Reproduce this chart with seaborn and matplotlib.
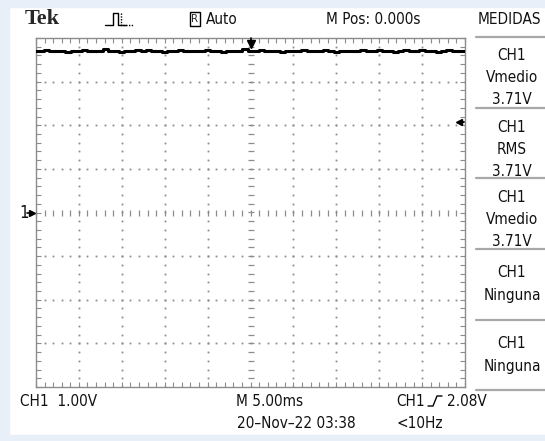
import numpy as np
import pandas as pd
import seaborn as sns
import matplotlib.pyplot as plt
from matplotlib.lines import Line2D
from matplotlib.patches import Rectangle

# CH1 trace, volts (1 V/div), sampled across the 50 ms screen (5 ms/div)
ch1_volts = [3.71, 3.71, 3.73, 3.71, 3.71, 3.71, 3.69, 3.71, 3.71, 3.73,
             3.71, 3.71, 3.71, 3.74, 3.71, 3.71, 3.69, 3.71, 3.71, 3.73,
             3.71, 3.73, 3.71, 3.71, 3.69, 3.71, 3.71, 3.73, 3.71, 3.71,
             3.71, 3.71, 3.73, 3.71, 3.71, 3.69, 3.71, 3.71, 3.71, 3.74,
             3.71, 3.71, 3.73, 3.71, 3.71, 3.71, 3.69, 3.71, 3.71, 3.71,
             3.73, 3.71, 3.71, 3.71, 3.73, 3.71, 3.69, 3.71, 3.71, 3.71,
             3.71, 3.73, 3.71, 3.71, 3.73, 3.71, 3.71, 3.69, 3.71, 3.73,
             3.71, 3.71, 3.73, 3.71, 3.71, 3.69, 3.71, 3.73, 3.71, 3.71, 3.71]
trigger_level = 2.08

measure_channels = ['CH1', 'CH1', 'CH1', 'CH1', 'CH1']
measure_types = ['Vmedio', 'RMS', 'Vmedio', 'Ninguna', 'Ninguna']
measure_values = ['3.71V', '3.71V', '3.71V', '', '']

W, H = 545, 441
sns.set_style('white')
plt.rcParams['font.family'] = ['DejaVu Sans']
plt.rcParams['font.stretch'] = 'condensed'

fig = plt.figure(figsize=(W / 100, H / 100), dpi=100)
fig.patch.set_facecolor('white')


def fx(x):
    return x / W


def fy(y):
    return 1 - y / H


def label(x, y, s, ha='left', size=11):
    fig.text(fx(x), fy(y), s, fontsize=size, ha=ha, va='center', stretch='condensed',
             color='#111111')


# light blue frame of the screenshot
frame = '#e9eff9'
fig.add_artist(Rectangle((0, 0), fx(9), 1, transform=fig.transFigure, color=frame, zorder=0))
fig.add_artist(Rectangle((0, fy(7)), 1, 7 / H, transform=fig.transFigure, color=frame, zorder=0))
fig.add_artist(Rectangle((0, 0), 1, 6 / H, transform=fig.transFigure, color=frame, zorder=0))

ax = fig.add_axes([fx(36), fy(387), (465 - 36) / W, (387 - 38) / H])
ax.set_facecolor('white')

df = pd.DataFrame({'time_ms': np.linspace(-25, 25, len(ch1_volts)), 'volts': ch1_volts})
sns.lineplot(data=df, x='time_ms', y='volts', color='black', linewidth=2.2,
             drawstyle='steps-mid', ax=ax, zorder=5)

ax.set_xlim(-25, 25)
ax.set_ylim(-4, 4)
ax.set_xlabel('')
ax.set_ylabel('')

grid_c = '#8c8c8c'
for s in ax.spines.values():
    s.set_color(grid_c)
    s.set_linewidth(1.0)

# graticule: border ticks every 1/5 division
ax.set_xticks(np.arange(-25, 25.1, 5))
ax.set_yticks(np.arange(-4, 4.1, 1))
ax.set_xticks(np.arange(-25, 25.1, 1), minor=True)
ax.set_yticks(np.arange(-4, 4.1, 0.2), minor=True)
ax.tick_params(which='both', direction='in', length=3.5, width=0.8, color=grid_c,
               top=True, right=True, bottom=True, left=True,
               labelbottom=False, labelleft=False)

xs = np.arange(-25, 25.1, 1)
ys = np.arange(-4, 4.1, 0.2)
for gx in np.arange(-20, 20.1, 5):
    if gx == 0:
        ax.plot(np.full_like(ys, gx), ys, ls='none', marker='_', ms=4, mew=0.9, color=grid_c)
    else:
        ax.plot(np.full_like(ys, gx), ys, ls='none', marker='s', ms=1.3, mew=0, color=grid_c)
for gy in np.arange(-3, 3.1, 1):
    if gy == 0:
        ax.plot(xs, np.full_like(xs, gy), ls='none', marker='|', ms=4, mew=0.9, color=grid_c)
    else:
        ax.plot(xs, np.full_like(xs, gy), ls='none', marker='s', ms=1.3, mew=0, color=grid_c)

# trigger position (top) and trigger level (right) markers
ax.plot([0], [3.86], marker='v', ms=6, color='black', clip_on=False, zorder=6)
ax.plot([0, 0], [3.9, 4.0], color='black', lw=1.2, clip_on=False, zorder=6)
ax.plot([24.3], [trigger_level], marker='<', ms=5, color='black', clip_on=False, zorder=6)
ax.plot([24.3, 24.9], [trigger_level, trigger_level], color='black', lw=1.3, clip_on=False, zorder=6)

# channel 1 ground marker
ax.plot([-25.5], [0], marker='>', ms=5, color='black', clip_on=False, zorder=6)
ax.plot([-26.0, -25.4], [0, 0], color='black', lw=1.2, clip_on=False, zorder=6)
label(19, 213, '1', size=12)

# header
fig.text(fx(25), fy(19), 'Tek', fontsize=16, fontweight='bold', family='Liberation Serif',
         ha='left', va='center')
pulse_x = [105, 113, 113, 118, 118, 126]
pulse_y = [25, 25, 13, 13, 25, 25]
fig.add_artist(Line2D([fx(v) for v in pulse_x], [fy(v) for v in pulse_y],
                      transform=fig.transFigure, color='black', lw=1.0))
fig.add_artist(Line2D([fx(121), fx(121), fx(134)], [fy(13), fy(25), fy(25)],
                      transform=fig.transFigure, color='black', lw=1.0, ls=(0, (1, 1))))
fig.text(fx(195), fy(19), 'R', fontsize=8, ha='center', va='center', stretch='condensed',
         bbox=dict(boxstyle='square,pad=0.15', fc='white', ec='black', lw=1.0))
label(206, 19, 'Auto')
label(326, 19, 'M Pos: 0.000s')
label(478, 19, 'MEDIDAS')

# measurement panel
box_tops = [37, 108, 178, 249, 320, 390]
for y in box_tops:
    fig.add_artist(Line2D([fx(476), fx(545)], [fy(y), fy(y)], transform=fig.transFigure,
                          color='#a8a8a8', lw=1.6))
for i, (ch, kind, val) in enumerate(zip(measure_channels, measure_types, measure_values)):
    top = box_tops[i]
    rows = [ch, kind, val] if val else [ch, kind]
    offs = [19, 41, 63] if val else [23.5, 46.5]
    for txt, o in zip(rows, offs):
        label(512, top + o, txt, ha='center')

# footer
label(20, 401, 'CH1  1.00V')
label(236, 401, 'M 5.00ms')
label(396, 401, 'CH1')
fig.add_artist(Line2D([fx(v) for v in [428, 433, 437, 442]], [fy(v) for v in [406, 406, 396, 396]],
                      transform=fig.transFigure, color='black', lw=1.0))
label(447, 401, '2.08V')
label(237, 424, '20\u2013Nov\u201322 03:38')
label(396, 424, '<10Hz')

plt.savefig('out.png', dpi=100, facecolor=fig.get_facecolor())
plt.close()
